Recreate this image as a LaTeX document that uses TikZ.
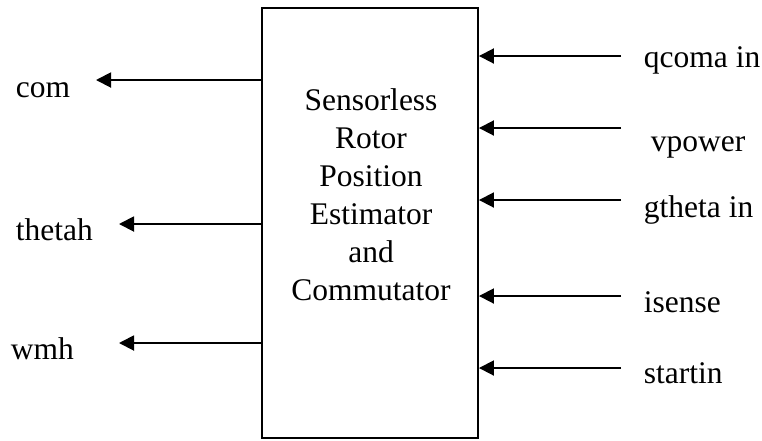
\documentclass[tikz,border=0pt]{standalone}
\usepackage{fontspec}
\setmainfont{Liberation Serif}
\usetikzlibrary{arrows.meta}

\begin{document}
\begin{tikzpicture}[x=1pt,y=-1pt,line width=1.9pt,
    sig/.style={-{Triangle[length=15pt,width=15pt]}},
    lbl/.style={anchor=base west,inner sep=0pt,font=\fontsize{31.5}{38}\selectfont}]
        \useasboundingbox (0,0) rectangle (762,440);
        \node[draw,minimum width=216pt,minimum height=430pt,inner sep=0pt] (box) at (370,223) {};
        \node[align=center,inner sep=0pt,font=\fontsize{31.5}{38}\selectfont] (name) at (371,195)
            {Sensorless\\Rotor\\Position\\Estimator\\and\\Commutator};

        % outputs
        \node[lbl] (com) at (15,97) {com};
        \node[lbl] (thetah) at (15,240) {thetah};
        \node[lbl] (wmh) at (10,359) {wmh};
        \coordinate (com tip) at (96,80);
        \coordinate (thetah tip) at (119,224);
        \coordinate (wmh tip) at (119,343);

        % inputs
        \node[lbl] (qcoma) at (643,67) {qcoma in};
        \node[lbl] (vpower) at (650,151) {vpower};
        \node[lbl] (gtheta) at (643,217) {gtheta in};
        \node[lbl] (isense) at (643,312) {isense};
        \node[lbl] (startin) at (643,383) {startin};
        \coordinate (qcoma end) at (621,56);
        \coordinate (vpower end) at (621,128);
        \coordinate (gtheta end) at (621,200);
        \coordinate (isense end) at (621,296);
        \coordinate (startin end) at (621,368);

        \draw[sig] (com tip -| box.west) -- (com tip);
        \draw[sig] (thetah tip -| box.west) -- (thetah tip);
        \draw[sig] (wmh tip -| box.west) -- (wmh tip);
        \draw[sig] (qcoma end) -- (qcoma end -| box.east);
        \draw[sig] (vpower end) -- (vpower end -| box.east);
        \draw[sig] (gtheta end) -- (gtheta end -| box.east);
        \draw[sig] (isense end) -- (isense end -| box.east);
        \draw[sig] (startin end) -- (startin end -| box.east);
      \end{tikzpicture}
\end{document}
